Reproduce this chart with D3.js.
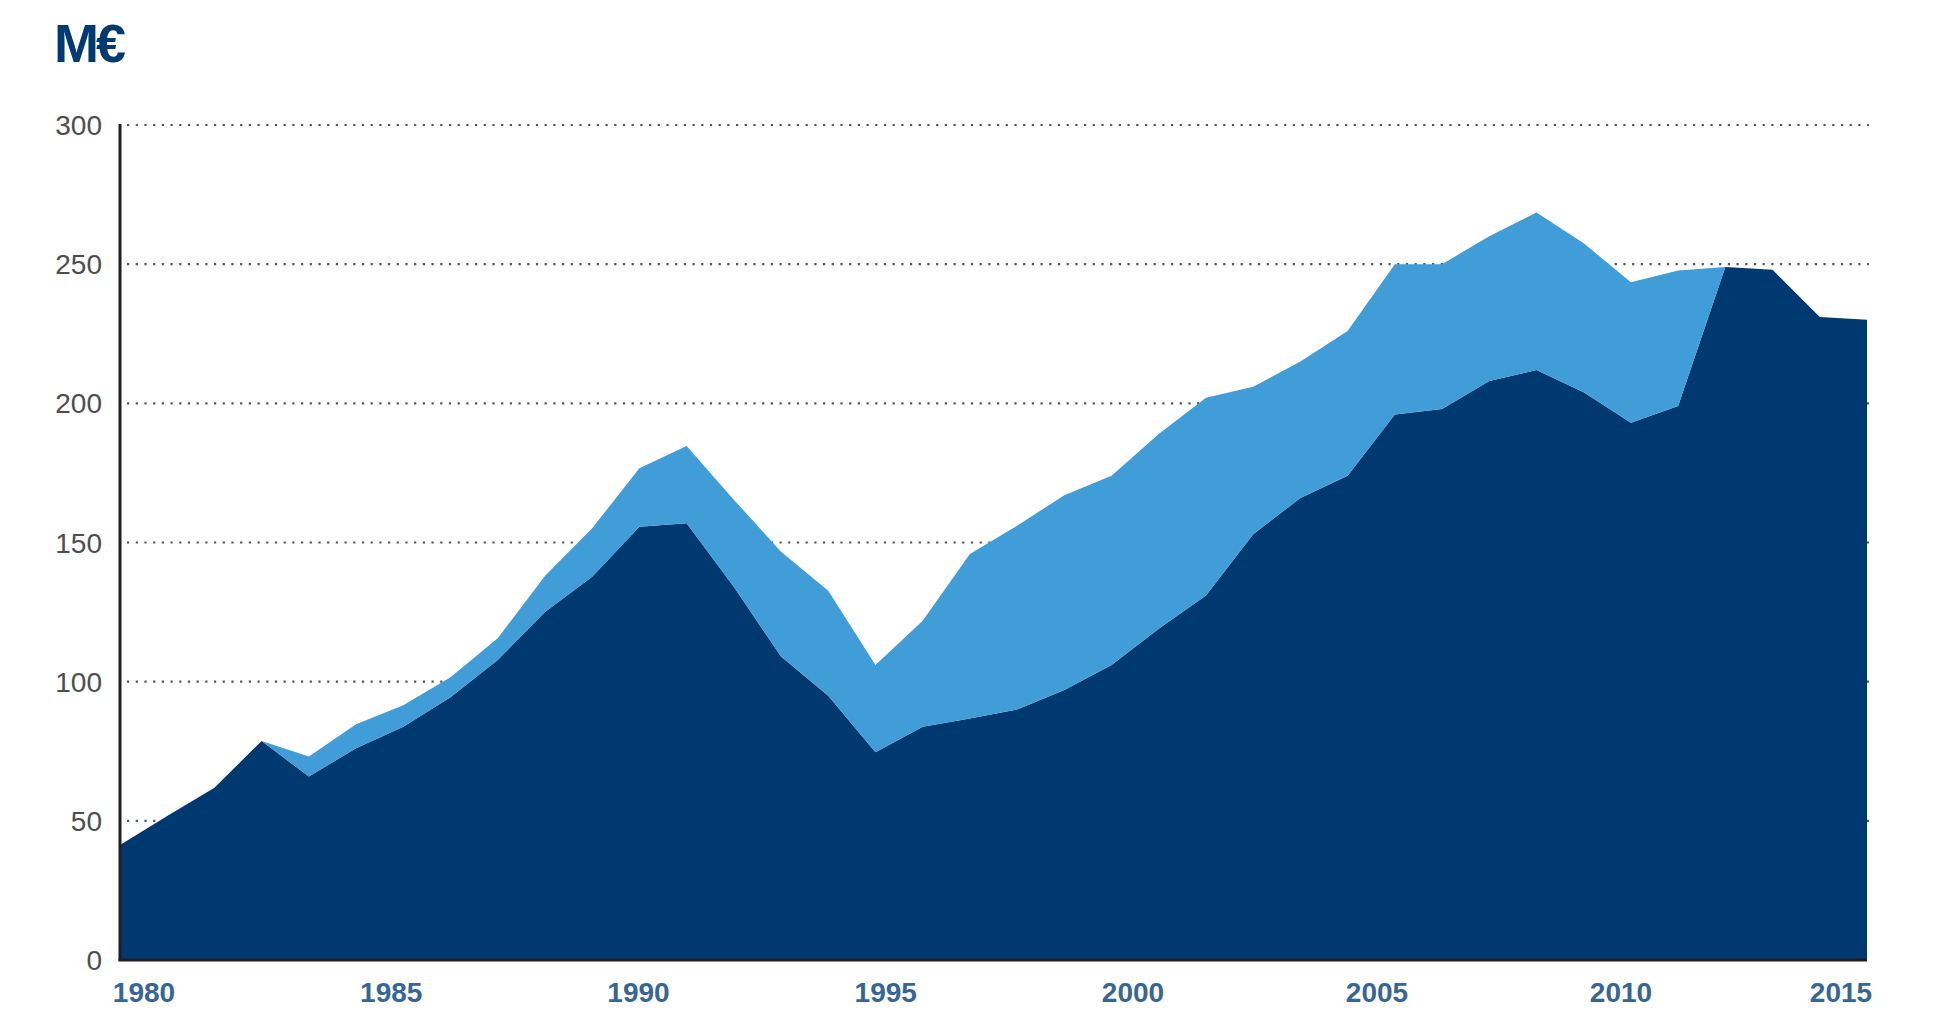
<!DOCTYPE html>
<html>
<head>
<meta charset="utf-8">
<script src="https://cdn.jsdelivr.net/npm/d3@7"></script>
<style>
body { margin:0; background:#fff; }
text { font-family: "Liberation Sans", Arial, sans-serif; }
</style>
</head>
<body>
<script>
var width = 1934, height = 1015;
var plotLeft = 120, plotRight = 1867, plotTop = 125, plotBottom = 960;

// values in M€, 38 points along the axis
var darkValues = [41.3, 51.7, 61.9, 78.7, 65.9, 76.1, 83.8, 94.4, 107.8, 125, 137.7, 155.7, 156.9, 134.1, 109, 94.9, 74.6, 83.8, 86.8, 90,
                  97, 106, 119, 131, 153, 166, 174, 196, 198, 208, 212, 204, 193, 199, 249, 248, 231, 230];
var lightValues = [0, 0, 0, 0, 7.2, 8.6, 7.7, 7.2, 7.8, 13, 17.4, 21, 27.8, 31.3, 37.7, 37.8, 31.4, 38.1, 59.1, 66,
                   70, 68, 70, 71, 53, 49, 52, 54, 52, 52, 56.6, 53.5, 50.5, 48.7, 0, 0, 0, 0];
var yTicks = [0, 50, 100, 150, 200, 250, 300];
var yearLabels = [1980, 1985, 1990, 1995, 2000, 2005, 2010, 2015];
var unitLabel = "M€";

var rows = darkValues.map(function(d, i){ return {i: i, dark: d, light: lightValues[i]}; });
var stack = d3.stack().keys(["dark", "light"])(rows);

var x = d3.scaleLinear().domain([0, rows.length - 1]).range([plotLeft, plotRight]);
// year labels are not spaced quite evenly in the original
var xYear = d3.scaleLinear().domain([1980, 2000, 2010, 2015]).range([144, 1133, 1621, 1841]);
var y = d3.scaleLinear().domain([0, 300]).range([plotBottom, plotTop]);

var svg = d3.select("body").append("svg").attr("width", width).attr("height", height);

// unit title
svg.append("text").attr("x", 54).attr("y", 62)
    .attr("font-size", "54px").attr("font-weight", "bold").attr("fill", "#003a70")
    .attr("letter-spacing", "-3px")
    .text(unitLabel);

// dotted grid
svg.append("g").selectAll("line").data(yTicks.filter(function(d){ return d > 0; })).enter().append("line")
    .attr("x1", plotLeft + 7).attr("x2", plotRight + 2)
    .attr("y1", function(d){ return y(d); }).attr("y2", function(d){ return y(d); })
    .attr("stroke", "#555").attr("stroke-width", 2.2)
    .attr("stroke-dasharray", "2.2,6.5");

// areas
var area = d3.area()
    .x(function(d){ return x(d.data.i); })
    .y0(function(d){ return y(d[0]); })
    .y1(function(d){ return y(d[1]); });
var colors = ["#00396f", "#409dd7"];
svg.append("g").selectAll("path").data(stack).enter().append("path")
    .attr("d", area)
    .attr("fill", function(d, i){ return colors[i]; });

// y labels
svg.append("g").selectAll("text").data(yTicks).enter().append("text")
    .attr("x", 102).attr("y", function(d){ return y(d); }).attr("dy", "0.36em")
    .attr("text-anchor", "end").attr("font-size", "28px").attr("fill", "#4d4d4f")
    .text(function(d){ return d; });

// x labels
svg.append("g").selectAll("text").data(yearLabels).enter().append("text")
    .attr("x", function(d){ return xYear(d); }).attr("y", 1002)
    .attr("text-anchor", "middle").attr("font-size", "28px").attr("font-weight", "bold")
    .attr("fill", "#386592")
    .text(function(d){ return d; });

// axis lines
svg.append("line").attr("x1", plotLeft).attr("x2", plotLeft).attr("y1", plotTop - 1).attr("y2", plotBottom + 1)
    .attr("stroke", "#1e1e24").attr("stroke-width", 3);
svg.append("line").attr("x1", plotLeft - 1.5).attr("x2", plotRight).attr("y1", plotBottom).attr("y2", plotBottom)
    .attr("stroke", "#1e1e24").attr("stroke-width", 3);
</script>
</body>
</html>
